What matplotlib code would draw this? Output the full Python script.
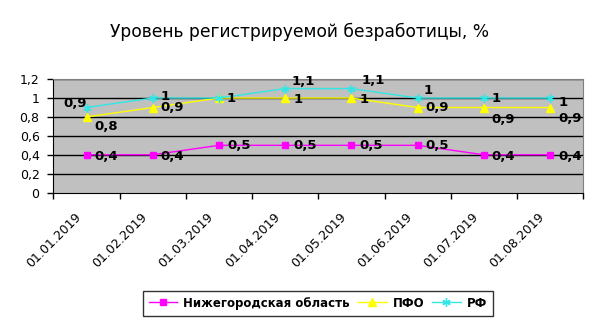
import matplotlib
matplotlib.use("Agg")
import matplotlib.pyplot as plt
import matplotlib.transforms as mtransforms
import numpy as np

plt.rcParams['font.family'] = ['DejaVu Sans']

categories = ["01.01.2019", "01.02.2019", "01.03.2019", "01.04.2019",
              "01.05.2019", "01.06.2019", "01.07.2019", "01.08.2019"]
nizhny = [0.4, 0.4, 0.5, 0.5, 0.5, 0.5, 0.4, 0.4]
pfo = [0.8, 0.9, 1.0, 1.0, 1.0, 0.9, 0.9, 0.9]
rf = [0.9, 1.0, 1.0, 1.1, 1.1, 1.0, 1.0, 1.0]
yticks = [0, 0.2, 0.4, 0.6, 0.8, 1.0, 1.2]
ytick_labels = ["0", "0,2", "0,4", "0,6", "0,8", "1", "1,2"]

def fmt(v):
    s = ("%.1f" % v).replace(".", ",")
    return s[:-2] if s.endswith(",0") else s

fig = plt.figure(figsize=(6.0, 3.27), dpi=100)
ax = fig.add_axes([0.089, 0.411, 0.883, 0.347])
ax.set_facecolor("#c0c0c0")

x = np.arange(len(categories))
ax.plot(x, nizhny, color="#ff00ff", marker="s", markersize=5, lw=1,
        label="Нижегородская область", zorder=4)
ax.plot(x, pfo, color="#ffff00", marker="^", markersize=6, lw=1,
        label="ПФО", zorder=3)
ax.plot(x, rf, color="#33e6e6", marker=(6, 2, 0), markersize=6, lw=1,
        label="РФ", zorder=5)

ax.set_xlim(-0.5, len(categories) - 0.5)
ax.set_ylim(0, 1.2)
ax.set_yticks(yticks)
ax.set_yticklabels(ytick_labels, fontsize=9)
for yv in yticks[1:]:
    ax.axhline(yv, color="black", lw=1, zorder=1)

# x ticks at category boundaries
ax.set_xticks(np.arange(len(categories) + 1) - 0.5)
ax.set_xticklabels([])
ax.set_xticks(x, minor=True)
ax.set_xticklabels(categories, minor=True, rotation=45, ha="right",
                   rotation_mode="anchor", fontsize=9)
ax.tick_params(axis="x", which="minor", length=0, pad=13)
ax.tick_params(axis="x", which="major", length=4, direction="out", width=1)
ax.tick_params(axis="y", length=4, direction="out", width=1, pad=6)
shift = mtransforms.ScaledTranslation(-12 / 100, 0, fig.dpi_scale_trans)
for lbl in ax.get_xticklabels(minor=True):
    lbl.set_transform(lbl.get_transform() + shift)

for side in ["top", "right"]:
    ax.spines[side].set_color("#808080")
ax.spines["left"].set_color("black")
ax.spines["bottom"].set_color("black")

# data labels (offsets in pixels)
lab_kw = dict(textcoords="offset pixels", fontsize=9.5, fontweight="bold",
              va="center", zorder=6)
rf_off = [(-23, 4), (8, 2), (8, 0), (6, 7), (10, 8), (6, 8), (8, 0), (8, -4)]
pfo_off = [(8, -10), (8, 0), None, (8, -1), (8, -1), (8, 0), (8, -12), (8, -11)]
nz_off = [(8, -2), (8, -2), (8, 0), (8, 0), (8, 0), (8, 0), (8, -2), (8, -2)]
for i, v in enumerate(rf):
    ax.annotate(fmt(v), (x[i], v), xytext=rf_off[i], ha="left", **lab_kw)
for i, v in enumerate(pfo):
    if pfo_off[i] is None:
        continue
    ax.annotate(fmt(v), (x[i], v), xytext=pfo_off[i], ha="left", **lab_kw)
for i, v in enumerate(nizhny):
    ax.annotate(fmt(v), (x[i], v), xytext=nz_off[i], ha="left", **lab_kw)

fig.text(0.5, 0.902, "Уровень регистрируемой безработицы, %", ha="center",
         va="center", fontsize=12.3)

leg = fig.legend(loc="center", bbox_to_anchor=(0.53, 0.073), ncol=3,
                 frameon=True, fancybox=False, edgecolor="black",
                 prop={"size": 8.5, "weight": "bold"}, handlelength=2.4,
                 columnspacing=0.7, handletextpad=0.5, borderpad=0.5)
leg.get_frame().set_linewidth(1)

fig.savefig("out.png", dpi=100, facecolor="white")
